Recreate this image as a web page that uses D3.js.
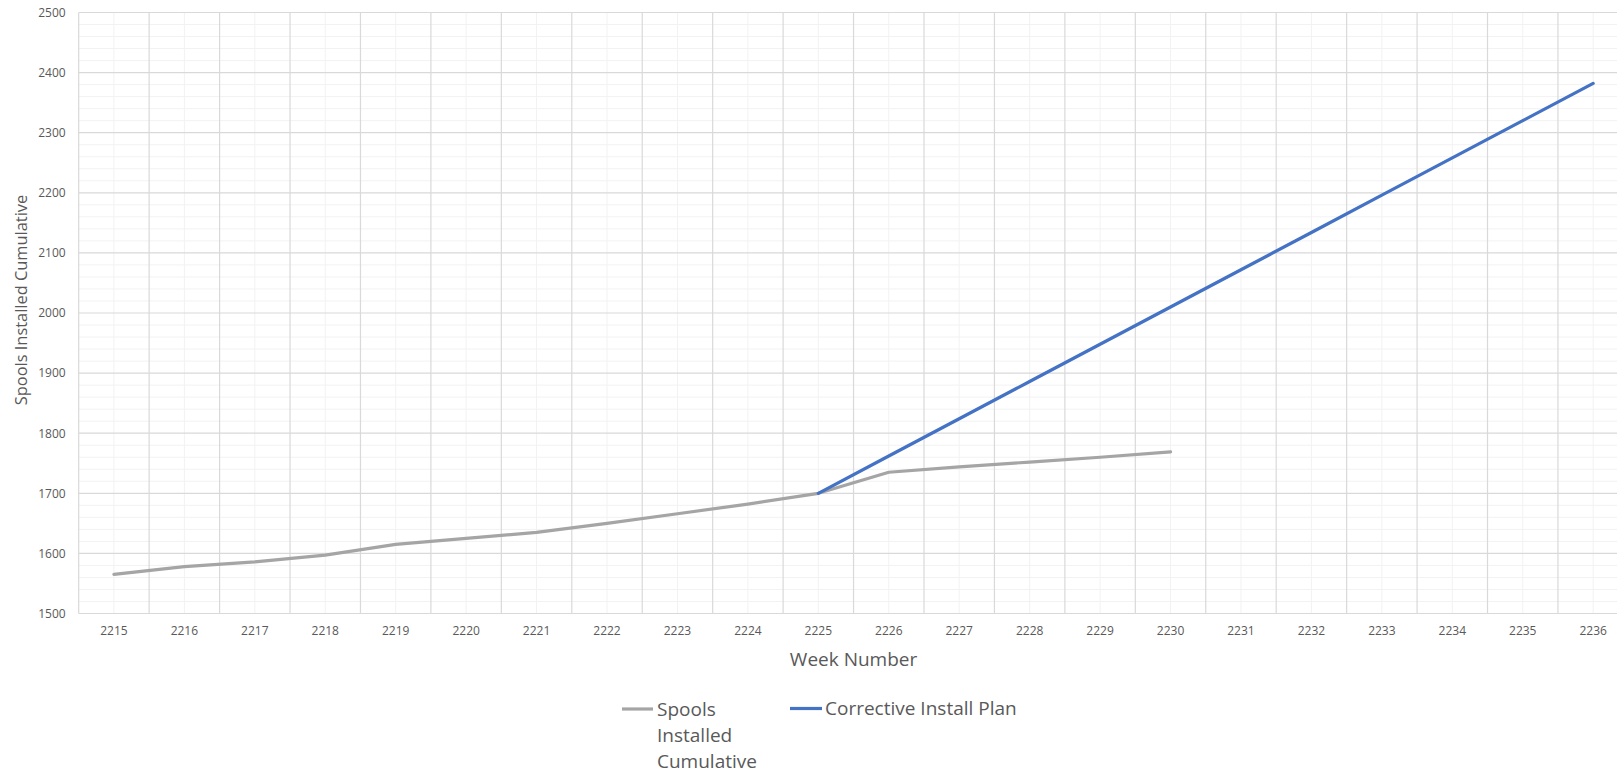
<!DOCTYPE html>
<html>
<head>
<meta charset="utf-8">
<script src="https://cdn.jsdelivr.net/npm/d3@7"></script>
<style>
  html, body { margin: 0; padding: 0; background: #fff; overflow: hidden; }
  svg { display: block; }
  text { font-family: "Open Sans", "Liberation Sans", sans-serif; fill: #595959; }
</style>
</head>
<body>
<svg id="chart" width="1617" height="773"></svg>
<script>
const weeks = ["2215","2216","2217","2218","2219","2220","2221","2222","2223","2224","2225",
               "2226","2227","2228","2229","2230","2231","2232","2233","2234","2235","2236"];
const spoolsWeeks = weeks.slice(0, 16);
const spoolsInstalled = [1565,1578,1586,1597,1615,1625,1635,1650,1666,1682,1700,1735,1744,1752,1760,1769];
const planWeeks = weeks.slice(10);
const correctivePlan = [1700,1762,1824,1886,1948,2010,2072,2134,2196,2258,2320,2382];
const yTicks = [1500,1600,1700,1800,1900,2000,2100,2200,2300,2400,2500];
const yMinorTicks = d3.range(1500, 2501, 20);
const seriesNames = ["Spools Installed Cumulative", "Corrective Install Plan"];

const svg = d3.select("#chart");
const pLeft = 78.7, pRight = 1628.4, pTop = 12.5, pBottom = 613.5;

const x = d3.scaleBand().domain(weeks).range([pLeft, pRight]).padding(0);
const bw = x.bandwidth();
const cx = d => x(d) + bw / 2;
const y = d3.scaleLinear().domain([1500, 2500]).range([pBottom, pTop]);

const grid = svg.append("g");
grid.selectAll("line.hmin").data(yMinorTicks.filter(v => v % 100 !== 0)).join("line")
  .attr("x1", pLeft).attr("x2", pRight).attr("y1", d => y(d)).attr("y2", d => y(d))
  .attr("stroke", "#F2F2F2").attr("stroke-width", 1);
grid.selectAll("line.vmin").data(weeks).join("line")
  .attr("x1", d => cx(d)).attr("x2", d => cx(d)).attr("y1", pTop).attr("y2", pBottom)
  .attr("stroke", "#F2F2F2").attr("stroke-width", 1);
grid.selectAll("line.hmaj").data(yTicks).join("line")
  .attr("x1", pLeft).attr("x2", pRight).attr("y1", d => y(d)).attr("y2", d => y(d))
  .attr("stroke", "#D9D9D9").attr("stroke-width", 1.2);
const bounds = weeks.map(w => x(w)).concat([pRight]);
grid.selectAll("line.vmaj").data(bounds).join("line")
  .attr("x1", d => d).attr("x2", d => d).attr("y1", pTop).attr("y2", pBottom)
  .attr("stroke", "#D9D9D9").attr("stroke-width", 1.2);

const xAxis = svg.append("g").attr("transform", `translate(0,${pBottom})`)
  .call(d3.axisBottom(x).tickSize(0).tickPadding(13));
xAxis.select(".domain").remove();
xAxis.selectAll("text").attr("font-size", 12).attr("fill", "#595959")
  .style("font-family", "'Open Sans', sans-serif");

const yAxis = svg.append("g").attr("transform", `translate(${pLeft},0)`)
  .call(d3.axisLeft(y).tickValues(yTicks).tickSize(0).tickPadding(13).tickFormat(d3.format("d")));
yAxis.select(".domain").remove();
yAxis.selectAll("text").attr("font-size", 12).attr("fill", "#595959")
  .style("font-family", "'Open Sans', sans-serif");

const line = d3.line().x(d => cx(d[0])).y(d => y(d[1]));
svg.append("path")
  .datum(spoolsWeeks.map((w, i) => [w, spoolsInstalled[i]]))
  .attr("d", line).attr("fill", "none").attr("stroke", "#A5A5A5")
  .attr("stroke-width", 3.2).attr("stroke-linejoin", "round").attr("stroke-linecap", "round");
svg.append("path")
  .datum(planWeeks.map((w, i) => [w, correctivePlan[i]]))
  .attr("d", line).attr("fill", "none").attr("stroke", "#4472C4")
  .attr("stroke-width", 3.2).attr("stroke-linejoin", "round").attr("stroke-linecap", "round");

svg.append("text").attr("x", (pLeft + pRight) / 2).attr("y", 659).attr("dy", "0.35em")
  .attr("text-anchor", "middle").attr("font-size", 19).text("Week Number");
svg.append("text").attr("transform", "translate(21,300) rotate(-90)").attr("dy", "0.35em")
  .attr("text-anchor", "middle").attr("font-size", 16.4).text("Spools Installed Cumulative");

const lg = svg.append("g");
lg.append("line").attr("x1", 622).attr("x2", 653).attr("y1", 709).attr("y2", 709)
  .attr("stroke", "#A5A5A5").attr("stroke-width", 3.2);
const t1 = lg.append("text").attr("x", 657).attr("y", 709).attr("font-size", 19);
["Spools", "Installed", "Cumulative"].forEach((w, i) => {
  t1.append("tspan").attr("x", 657).attr("y", 709 + i * 26.3).attr("dy", "0.35em").text(w);
});
lg.append("line").attr("x1", 790).attr("x2", 822).attr("y1", 708.5).attr("y2", 708.5)
  .attr("stroke", "#4472C4").attr("stroke-width", 3.2);
lg.append("text").attr("x", 825).attr("y", 708.5).attr("dy", "0.35em").attr("font-size", 19)
  .text(seriesNames[1]);
</script>
</body>
</html>
